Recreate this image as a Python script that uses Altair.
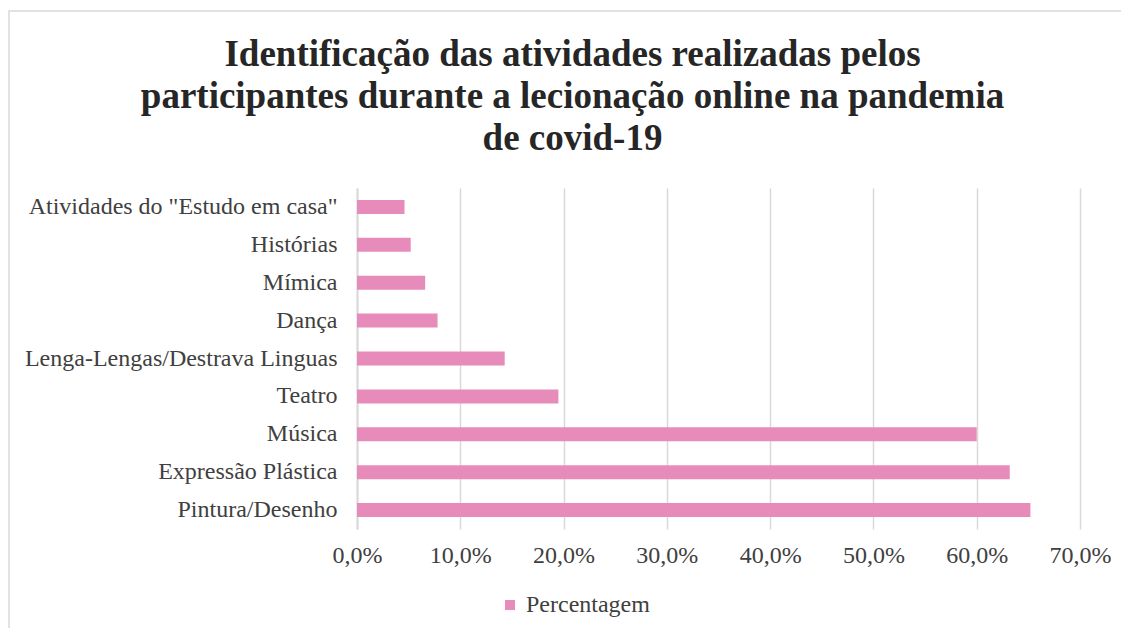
import altair as alt
import pandas as pd

categorias = [
    'Atividades do "Estudo em casa"',
    "Histórias",
    "Mímica",
    "Dança",
    "Lenga-Lengas/Destrava Linguas",
    "Teatro",
    "Música",
    "Expressão Plástica",
    "Pintura/Desenho",
]
valores = [0.046, 0.052, 0.066, 0.078, 0.143, 0.195, 0.600, 0.632, 0.652]
serie = "Percentagem"

df = pd.DataFrame({"cat": categorias, "val": valores, "serie": [serie] * len(categorias)})

FONT = "Liberation Serif"
W, H = 723, 341
FS = 24

bars = alt.Chart(df).mark_bar(size=14).encode(
    y=alt.Y("cat:N", sort=categorias, title=None,
            axis=alt.Axis(labelFontSize=FS, labelColor="#404040", labelFont=FONT,
                          ticks=False, domainColor="#d9d9d9", domainWidth=2,
                          labelPadding=20, labelLimit=400)),
    x=alt.X("val:Q", title=None, scale=alt.Scale(domain=[0, 0.7], nice=False),
            axis=alt.Axis(values=[0, 0.1, 0.2, 0.3, 0.4, 0.5, 0.6, 0.7],
                          labelExpr="replace(format(datum.value, '.1%'), '.', ',')",
                          labelFontSize=FS, labelColor="#404040", labelFont=FONT,
                          labelFlush=False, labelOverlap=False,
                          ticks=False, domain=False, grid=True, gridColor="#d9d9d9",
                          gridWidth=1.5, labelPadding=14)),
    color=alt.Color("serie:N", scale=alt.Scale(range=["#e78cba"]),
                    legend=alt.Legend(title=None, orient="none", legendX=141, legendY=405,
                                      symbolType="square", symbolSize=100,
                                      labelFontSize=FS, labelFont=FONT, labelColor="#404040",
                                      symbolStrokeWidth=0)),
)

frame = alt.Chart(alt.Data(values=[{"k": 1}])).mark_rect(
    fill=None, stroke="#d9d9d9", strokeWidth=1.5, clip=False
).encode(
    x=alt.value(-348), x2=alt.value(W + 60), y=alt.value(-177), y2=alt.value(H + 120)
)

chart = alt.layer(frame, bars).properties(
    width=W, height=H,
    autosize=alt.AutoSizeParams(type="none"),
    padding={"left": 349, "top": 180, "right": 41, "bottom": 99},
    view=alt.ViewBackground(strokeWidth=0, stroke="transparent"),
    title=alt.TitleParams(
        text=["Identificação das atividades realizadas pelos",
              "participantes durante a lecionação online na pandemia",
              "de covid-19"],
        font=FONT, fontSize=37, fontWeight="bold", color="#262626",
        lineHeight=42, anchor="middle", dx=-146, offset=-148, frame="group",
    ),
).configure_view(stroke="transparent", strokeWidth=0).configure(background="white")

chart.save("out.html", embed_options={"renderer": "svg", "actions": False})
